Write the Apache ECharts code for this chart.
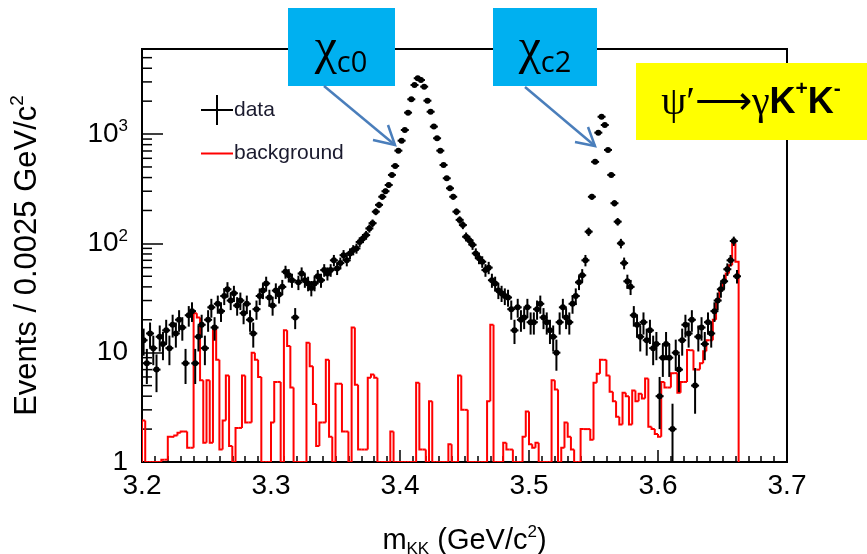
<!DOCTYPE html>
<html>
<head>
<meta charset="utf-8">
<script src="https://cdn.jsdelivr.net/npm/echarts@6/dist/echarts.min.js"></script>
<style>
  html, body { margin: 0; padding: 0; background: #ffffff; }
  #chart { width: 867px; height: 554px; }
</style>
</head>
<body>
<div id="chart"></div>
<script>
// Mass window and binning (GeV/c^2)
const X_MIN = 3.2;
const X_MAX = 3.7;
const BIN_WIDTH = 0.0025;
const Y_MIN = 1;
const Y_MAX = 6000;

// Axis tick labels: mantissa and exponent per decade
const xTickLabels = ['3.2', '3.3', '3.4', '3.5', '3.6', '3.7'];
const yTickLabels = { 1: ['1', ''], 10: ['10', ''], 100: ['10', '2'], 1000: ['10', '3'] };
const yMinorTicks = [2, 3, 4, 5, 6, 7, 8, 9, 20, 30, 40, 50, 60, 70, 80, 90,
  200, 300, 400, 500, 600, 700, 800, 900, 2000, 3000, 4000, 5000];

// Events per bin, first bin starts at 3.2
const dataCounts = [
  13, 8, 15, 11, 7, 14, 12, 16, 11, 18, 15, 20, 17, 8, 22, 24, 8, 14, 18, 11,
  20, 26, 17, 28, 24, 33, 38, 30, 35, 27, 30, 23, 28, 20, 15, 25, 33,
  37, 43, 32, 27, 37, 34, 40, 55, 51, 46, 21, 44, 53, 46, 43, 39, 43, 50, 46,
  57, 53, 57, 70, 59, 66, 78, 70, 81, 87, 90, 103, 111, 119, 137, 153, 195, 225,
  267, 300, 342, 423, 511, 705, 870, 1090, 1570, 2080, 2810, 3240, 3120, 2715,
  2020, 1600, 1170, 915, 705, 521, 394, 319, 267, 195, 164, 147, 115,
  107, 97, 81, 73, 68, 57, 60, 46, 43, 37, 35, 33,
  32, 25, 16, 26, 20, 21, 26, 19, 19, 25, 28, 21, 19, 16, 14, 10, 19, 26, 21, 19,
  28, 33, 44, 51, 70, 128, 267, 557, 1030, 1440, 1210, 716, 423, 233, 158, 100, 66, 45,
  40, 22, 18, 14, 19, 13, 16, 11, 12, 4, 9, 12, 9, 2, 10, 7, 13, 18, 15, 20,
  5, 14, 17, 12, 19, 15, 24, 30, 38, 45, 58, 70, 105, 50
];

// Estimated background per bin
const bgCounts = [
  2.4, 0, 0, 0, 0, 0, 1.05, 1.05, 1.7, 1.7, 1.75, 1.85, 1.9, 1.9, 1.35, 1.35, 23, 21, 5.6, 1.5,
  5.6, 1.5, 17, 8.6, 1.3, 2.4, 6.2, 1.4, 0, 2.05, 2.05, 6.2, 2.3, 2.3, 10, 8.6, 6.0,
  0, 0, 0, 2.3, 5.4, 5.4, 0, 16, 11.5, 4.8, 0, 0, 0, 0,
  12.3, 7.5, 3.4, 1.4, 2.3, 2.3, 8.6, 1.7, 0, 5.2,
  5.2, 1.9, 1.9, 0, 17, 5.1, 1.3, 1.3, 1.3, 5.9, 6.3, 5.9,
  0, 0, 0, 0, 1.9, 0, 0, 0, 0, 0, 0, 0,
  5.3, 1.3, 1.3, 0, 3.6, 0, 0, 0, 0, 0, 1.45, 0, 0, 6.2, 3.0, 3.0,
  0, 0, 0, 0, 0, 0, 3.6, 18, 0, 0, 0, 1.5,
  1.3, 1.3, 0, 0, 0, 1.7, 2.9, 1.45, 1.35, 1.5, 0, 0, 0, 0, 5.6, 4.6, 0,
  1.35, 2.3, 1.7, 1.3, 0, 0, 2.0, 2.0, 2.0, 1.6, 5.3, 6.4, 8.6, 8.6, 6.2, 4.4, 3.6, 2.6, 2.2,
  4.3, 4.0, 2.2, 4.5, 3.6, 4.2, 3.8, 5.8, 2.1, 2.0, 1.8, 1.7,
  5.4, 4.8, 4.8, 6.5, 6.5, 4.3, 5.4, 5.4, 10.6, 10.5, 7, 7, 8, 10.3, 13, 13, 20, 30,
  37.5, 45, 53, 63, 100, 68
];

const FONT = 'Liberation Sans, Arial, Helvetica, sans-serif';
const GREEK = 'Liberation Serif, Times New Roman, serif';
const clampY = v => Math.max(v, Y_MIN);
const isDecade = v => Math.abs(Math.log10(v) - Math.round(Math.log10(v))) < 1e-6;

const dataItems = dataCounts.map((n, i) => [X_MIN + BIN_WIDTH * (i + 0.5), n]);
// [binLow, binHigh, value, previous value, last-bin flag]
const bgItems = bgCounts.map((v, i) => [
  X_MIN + BIN_WIDTH * i, X_MIN + BIN_WIDTH * (i + 1), v,
  i > 0 ? bgCounts[i - 1] : 0, i === bgCounts.length - 1 ? 1 : 0
]);

const chart = echarts.init(document.getElementById('chart'), null, { renderer: 'canvas' });

const option = {
  animation: false,
  backgroundColor: '#ffffff',
  grid: {
    left: 142, right: 80, top: 49, bottom: 92,
    containLabel: false, outerBoundsMode: 'none',
    show: true, borderColor: '#000', borderWidth: 2, backgroundColor: 'transparent'
  },
  legend: {
    orient: 'vertical',
    left: 196, top: 90,
    itemWidth: 32, itemHeight: 30, itemGap: 18,
    textStyle: { fontFamily: FONT, fontSize: 21, color: '#1a1a2e', padding: [0, 0, 0, -4] },
    data: [
      { name: 'data', icon: 'path://M15,0L17,0L17,14L32,14L32,16L17,16L17,30L15,30L15,16L0,16L0,14L15,14Z' },
      { name: 'background', icon: 'path://M0,0L32,0L32,2L0,2Z' }
    ]
  },
  xAxis: {
    type: 'value',
    min: X_MIN, max: X_MAX, interval: 0.1,
    axisLine: { lineStyle: { color: '#000', width: 2 } },
    axisTick: { inside: true, length: 12, lineStyle: { color: '#000', width: 1.5 } },
    minorTick: { show: true, splitNumber: 10, length: 6, lineStyle: { color: '#000', width: 1.5 } },
    splitLine: { show: false },
    axisLabel: {
      margin: 10, fontFamily: FONT, fontSize: 28, color: '#000',
      formatter: v => xTickLabels[Math.round((v - X_MIN) / 0.1)] || ''
    },
    name: '{m|m}{sub|KK}{m| (GeV/c}{sup|2}{m|)}',
    nameLocation: 'middle', nameGap: 62,
    nameTextStyle: {
      fontFamily: FONT, color: '#000',
      rich: {
        m: { fontFamily: FONT, fontSize: 29, color: '#000', lineHeight: 34 },
        sub: { fontFamily: FONT, fontSize: 17, color: '#000', verticalAlign: 'bottom' },
        sup: { fontFamily: FONT, fontSize: 17, color: '#000', verticalAlign: 'top' }
      }
    }
  },
  yAxis: {
    type: 'log', logBase: 10,
    min: Y_MIN, max: Y_MAX,
    axisLine: { lineStyle: { color: '#000', width: 2 } },
    axisTick: { inside: true, length: 21, lineStyle: { color: '#000', width: 1.5 } },
    splitLine: { show: false },
    axisLabel: {
      margin: 14, color: '#000',
      formatter: v => {
        if (!isDecade(v)) return '';
        const lab = yTickLabels[Math.round(v)];
        if (!lab) return '';
        return '{n|' + lab[0] + '}' + (lab[1] ? '{sup|' + lab[1] + '}' : '');
      },
      rich: {
        n: { fontFamily: FONT, fontSize: 28, color: '#000', lineHeight: 32 },
        sup: { fontFamily: FONT, fontSize: 17, color: '#000', verticalAlign: 'top', lineHeight: 18 }
      }
    },
    name: '{m|Events / 0.0025 GeV/c}{sup|2}',
    nameLocation: 'middle', nameGap: 96, nameRotate: 90,
    nameTextStyle: {
      rich: {
        m: { fontFamily: FONT, fontSize: 31, color: '#000', lineHeight: 38 },
        sup: { fontFamily: FONT, fontSize: 19, color: '#000', verticalAlign: 'top' }
      }
    }
  },
  series: [
    {
      // log-scale minor ticks (2..9 per decade) on the left axis
      type: 'custom', name: 'yMinor', silent: true,
      data: yMinorTicks.map(v => [X_MIN, v]),
      renderItem: (params, api) => {
        const p = api.coord([api.value(0), api.value(1)]);
        return {
          type: 'line',
          shape: { x1: p[0], y1: p[1], x2: p[0] + 10, y2: p[1] },
          style: { stroke: '#000', lineWidth: 1.5 }
        };
      },
      z: 1
    },
    {
      type: 'custom', name: 'background',
      itemStyle: { color: '#ff0000' },
      clip: true,
      data: bgItems,
      renderItem: (params, api) => {
        const x0 = api.value(0), x1 = api.value(1);
        const v = clampY(api.value(2)), vPrev = clampY(api.value(3));
        const pts = [api.coord([x0, vPrev]), api.coord([x0, v]), api.coord([x1, v])];
        if (api.value(4) === 1) pts.push(api.coord([x1, Y_MIN]));
        return {
          type: 'polyline',
          shape: { points: pts },
          style: { stroke: '#ff0000', lineWidth: 2, fill: null }
        };
      },
      z: 3
    },
    {
      type: 'custom', name: 'data',
      itemStyle: { color: '#000000' },
      clip: true,
      data: dataItems,
      renderItem: (params, api) => {
        const x = api.value(0), n = api.value(1);
        const err = Math.sqrt(n);
        const c = api.coord([x, n]);
        const lo = api.coord([x, clampY(n - err)]);
        const hi = api.coord([x, n + err]);
        const half = 4;
        return {
          type: 'group',
          children: [
            { type: 'line', shape: { x1: c[0], y1: lo[1], x2: c[0], y2: hi[1] }, style: { stroke: '#000', lineWidth: 2 } },
            { type: 'line', shape: { x1: c[0] - half, y1: c[1], x2: c[0] + half, y2: c[1] }, style: { stroke: '#000', lineWidth: 2 } },
            { type: 'circle', shape: { cx: c[0], cy: c[1], r: 3 }, style: { fill: '#000' } }
          ]
        };
      },
      z: 4
    }
  ],
  graphic: [
    // chi_c0 label
    { type: 'rect', shape: { x: 288, y: 8, width: 107, height: 78 }, style: { fill: '#00b0f0' }, z: 10 },
    {
      type: 'text', x: 341, y: 50, z: 11,
      style: {
        text: '{g|χ}{s|c0}', align: 'center', verticalAlign: 'middle',
        rich: {
          g: { fontFamily: GREEK, fontSize: 50, fill: '#000', lineHeight: 56 },
          s: { fontFamily: 'Open Sans', fontSize: 29, fill: '#000', verticalAlign: 'bottom' }
        }
      }
    },
    {
      type: 'polyline', z: 11,
      shape: { points: [[324, 86], [395, 145]] },
      style: { stroke: '#4a7ebb', lineWidth: 2.5, fill: null }
    },
    {
      type: 'polyline', z: 11,
      shape: { points: [[373, 140], [395, 145], [388, 125]] },
      style: { stroke: '#4a7ebb', lineWidth: 2.5, fill: null }
    },
    // chi_c2 label
    { type: 'rect', shape: { x: 493, y: 8, width: 104, height: 78 }, style: { fill: '#00b0f0' }, z: 10 },
    {
      type: 'text', x: 545, y: 50, z: 11,
      style: {
        text: '{g|χ}{s|c2}', align: 'center', verticalAlign: 'middle',
        rich: {
          g: { fontFamily: GREEK, fontSize: 50, fill: '#000', lineHeight: 56 },
          s: { fontFamily: 'Open Sans', fontSize: 29, fill: '#000', verticalAlign: 'bottom' }
        }
      }
    },
    {
      type: 'polyline', z: 11,
      shape: { points: [[525, 87], [595, 146]] },
      style: { stroke: '#4a7ebb', lineWidth: 2.5, fill: null }
    },
    {
      type: 'polyline', z: 11,
      shape: { points: [[575, 142], [595, 146], [588, 127]] },
      style: { stroke: '#4a7ebb', lineWidth: 2.5, fill: null }
    },
    // decay channel label
    { type: 'rect', shape: { x: 636, y: 63, width: 231, height: 77 }, style: { fill: '#ffff00' }, z: 10 },
    {
      type: 'text', x: 751, y: 103, z: 11,
      style: {
        text: '{g|ψ′⟶γ}{m|K}{sup|+}{m|K}{sup|-}', align: 'center', verticalAlign: 'middle',
        rich: {
          g: { fontFamily: GREEK, fontSize: 40, fill: '#000', lineHeight: 48 },
          m: { fontFamily: 'Liberation Sans', fontWeight: 'bold', fontSize: 36, fill: '#000', lineHeight: 48 },
          sup: { fontFamily: 'Liberation Sans', fontWeight: 'bold', fontSize: 21, fill: '#000', verticalAlign: 'top' }
        }
      }
    }
  ]
};

chart.setOption(option);
</script>
</body>
</html>
